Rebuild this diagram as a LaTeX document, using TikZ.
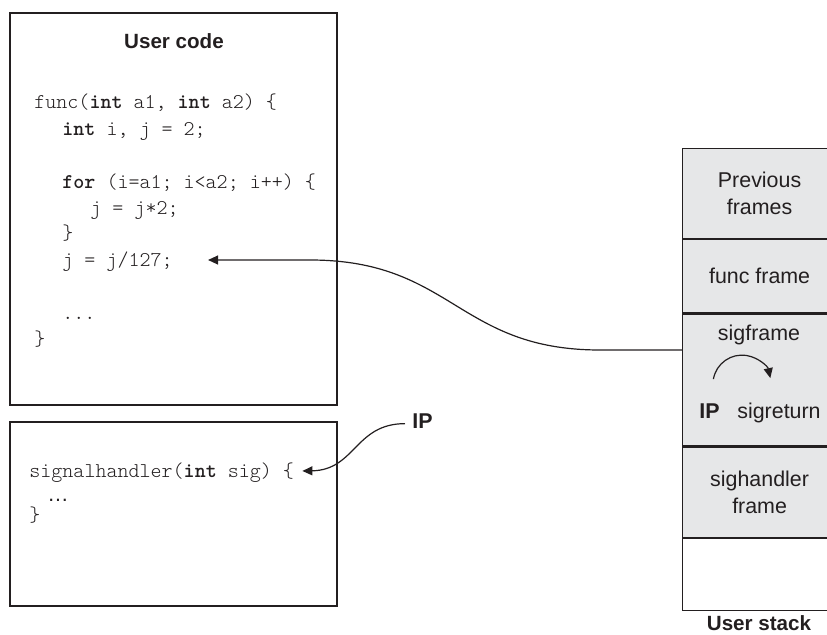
\documentclass[tikz,border=0pt]{standalone}
\usepackage{fontspec}
\setmainfont{Liberation Sans}
\setmonofont{Latin Modern Mono Light}
\usetikzlibrary{arrows.meta}
\definecolor{ink}{HTML}{231F20}
\definecolor{stackgray}{HTML}{E6E7E8}
\begin{document}
\begin{tikzpicture}[x=0.5pt,y=0.5pt,every node/.style={text=ink,inner sep=0pt},
  panel/.style={draw=ink,line width=0.6pt},
  cell/.style={draw=ink,line width=0.6pt,fill=stackgray,minimum width=77pt,anchor=north west,align=center,font=\fontsize{10.7}{13.5}\selectfont},
  code/.style={anchor=base west,font=\fontsize{10.5}{12}\ttfamily},
  lbl/.style={anchor=base,font=\fontsize{10.7}{13.5}\selectfont},
  title/.style={anchor=base,font=\fontsize{10.3}{12}\selectfont\bfseries},
  tip/.style={-{Triangle[length=5pt,width=4.5pt]},draw=ink,line width=0.6pt}]
\useasboundingbox (0,0) rectangle (827,634);
% code panels
\draw[panel] (10,621) rectangle (337,229);
\draw[panel] (10,212) rectangle (337,28);
\node[title] (ucode) at (174,586) {User code};
\node[code] (l1) at (34,525) {func(\textbf{int} a1, \textbf{int} a2) \{};
\node[code] (l2) at (62,499) {\textbf{int} i, j = 2;};
\node[code] (l3) at (62,446) {\textbf{for} (i=a1; i<a2; i++) \{};
\node[code] (l4) at (90,420) {j = j*2;};
\node[code] (l5) at (62,394) {\}};
\node[code] (jline) at (62,368) {j = j/127;};
\node[code] (l7) at (62,315) {...};
\node[code] (l8) at (34,289) {\}};
\node[code] (h1) at (29,157) {signalhandler(\textbf{int} sig) \{};
\node[code,font=\fontsize{10.7}{12}\selectfont] (h2) at (47,133) {…};
\node[code] (h3) at (29,113) {\}};
% user stack
\node[cell,minimum height=45pt] (prev) at (682,486) {Previous\\frames};
\node[cell,minimum height=36.5pt] (ff) at (prev.south west) {func frame};
\node[cell,minimum height=66pt] (sig) at (ff.south west) {};
\node[cell,minimum height=45pt] (sigh) at (sig.south west) {sighandler\\frame};
\node[cell,minimum height=36pt,fill=white] (free) at (sigh.south west) {};
\node[title] (ustack) at (759,4) {User stack};
\node[lbl] (sigf) at (759,294) {sigframe};
\node[lbl,anchor=base west,font=\fontsize{10.7}{13.5}\selectfont\bfseries] (ipin) at (699,216) {IP};
\node[lbl,anchor=base west] (sret) at (737,216) {sigreturn};
\coordinate (loopstart) at (713.4,254.9);
\draw[tip] (loopstart) arc[start angle=170,end angle=12,radius=14.5pt];
% return address
\coordinate (sigin) at ([yshift=15pt]sig.west);
\coordinate (jret) at ([xshift=17.5pt,yshift=3pt]jline.base east);
\draw[tip] (sigin) -- ++(-82,0) to[out=180,in=0,looseness=1.2] (310,0 |- jret) -- (jret);
% instruction pointer
\node[lbl,anchor=base west,font=\fontsize{10.7}{13.5}\selectfont\bfseries] (ipl) at (412,206) {IP};
\coordinate (ipstart) at ([xshift=-3.5pt,yshift=-1.5pt]ipl.west);
\coordinate (hret) at ([xshift=4pt,yshift=3pt]h1.base east);
\draw[tip] (ipstart) .. controls +(-50,0) and +(53,1) .. (hret);
\end{tikzpicture}
\end{document}
